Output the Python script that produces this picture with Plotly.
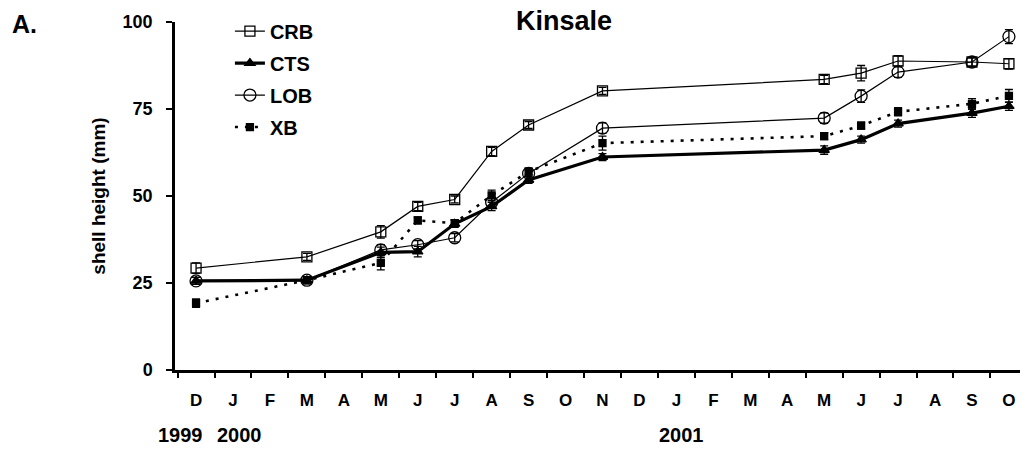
import plotly.graph_objects as go

months = ["D","J","F","M","A","M","J","J","A","S","O","N","D","J","F","M","A","M","J","J","A","S","O"]
# sample month indices (0 = Dec 1999)
x_idx = [0, 3, 5, 6, 7, 8, 9, 11, 17, 18, 19, 21, 22]

crb = [29.3, 32.5, 39.7, 47.0, 49.0, 62.8, 70.4, 80.2, 83.5, 85.3, 88.8, 88.5, 88.0]
crb_err = [1.5, 1.0, 1.8, 1.2, 1.0, 1.2, 1.0, 1.0, 1.2, 2.2, 1.5, 1.2, 1.5]
cts = [25.6, 25.8, 33.8, 34.0, 42.0, 47.0, 54.6, 61.2, 63.2, 66.2, 70.8, 73.8, 75.8]
cts_err = [1.0, 1.0, 1.5, 1.5, 1.0, 1.2, 1.0, 1.0, 1.2, 1.0, 1.0, 1.2, 1.2]
lob = [25.6, 25.8, 34.5, 36.0, 38.0, 48.2, 56.5, 69.5, 72.4, 78.7, 85.6, 88.5, 95.8]
lob_err = [1.0, 1.0, 1.5, 1.2, 1.2, 1.2, 1.0, 1.5, 1.5, 1.8, 1.5, 1.2, 2.0]
xb = [19.2, 25.8, 30.8, 43.0, 42.2, 50.2, 57.0, 65.2, 67.2, 70.2, 74.2, 76.5, 78.8]
xb_err = [1.2, 1.0, 2.0, 1.0, 1.0, 1.5, 1.0, 2.0, 1.0, 1.0, 1.2, 1.5, 1.8]

years = [("1999", -0.42), ("2000", 1.18), ("2001", 13.15)]

fnt = "Liberation Sans"
fig = go.Figure()

def add(name, y, err, sym, msize, lw, dash, mcolor, group):
    fig.add_trace(go.Scatter(
        x=x_idx, y=y, name="<b>%s</b>" % name, mode="lines+markers",
        legendgroup=group,
        line=dict(color="black", width=lw, dash=dash),
        marker=dict(symbol=sym, size=msize, color=mcolor,
                    line=dict(color="black", width=1.3)),
        error_y=dict(type="data", array=err, visible=True, color="black",
                     thickness=1.3, width=4),
    ))

add("CRB", crb, crb_err, "square-open", 10, 1.2, "solid", "black", "a")
add("CTS", cts, cts_err, "triangle-up", 9, 3.2, "solid", "black", "b")
add("LOB", lob, lob_err, "circle-open", 12, 1.2, "solid", "black", "c")
add("XB", xb, xb_err, "square", 7, 2.6, "3px,7px", "black", "d")

for label, xv in years:
    fig.add_annotation(x=xv, y=0, xref="x", yref="paper", text="<b>%s</b>" % label,
                       showarrow=False, yshift=-65, yanchor="middle",
                       font=dict(family=fnt, size=20, color="black"))

fig.add_annotation(x=-0.195, y=(370 - 24) / 348, xref="paper", yref="paper", xanchor="left",
                   yanchor="middle", text="<b>A.</b>", showarrow=False,
                   font=dict(family=fnt, size=25, color="black"))
fig.add_annotation(x=(564 - 175) / 845, y=(370 - 21) / 348, xref="paper", yref="paper",
                   xanchor="center", yanchor="middle", text="<b>Kinsale</b>", showarrow=False,
                   font=dict(family=fnt, size=27, color="black"))

fig.update_layout(
    width=1026, height=449,
    margin=dict(l=175, r=6, t=22, b=79),
    paper_bgcolor="white", plot_bgcolor="white",
    font=dict(family=fnt, size=15, color="black"),
    showlegend=True,
    legend=dict(x=0.065, y=1.03, xanchor="left", yanchor="top",
                bgcolor="rgba(0,0,0,0)", tracegroupgap=3,
                font=dict(family=fnt, size=20, color="black")),
    xaxis=dict(range=[-0.57, 22.3], tickmode="array",
               tickvals=list(range(len(months))),
               ticktext=["<b>%s</b>" % m for m in months],
               ticks="", showline=True, linecolor="black", linewidth=2.5,
               showgrid=False, zeroline=False, ticklabelstandoff=13,
               tickfont=dict(family=fnt, size=17, color="black"),
               minor=dict(tickmode="array",
                          tickvals=[i + 0.5 for i in range(-1, len(months))],
                          ticks="outside", ticklen=5, tickwidth=1.5,
                          tickcolor="black", showgrid=False)),
    yaxis=dict(range=[0, 100], tickvals=[0, 25, 50, 75, 100],
               ticktext=["<b>%d</b>" % v for v in [0, 25, 50, 75, 100]],
               ticks="outside", ticklen=6, tickwidth=1.8, tickcolor="black",
               showline=True, linecolor="black", linewidth=2.5,
               showgrid=False, zeroline=False, ticklabelstandoff=10,
               tickfont=dict(family=fnt, size=18, color="black"),
               title=dict(text="<b>shell height (mm)</b>", standoff=12,
                          font=dict(family=fnt, size=19, color="black"))),
)

fig.write_html("out.html")
